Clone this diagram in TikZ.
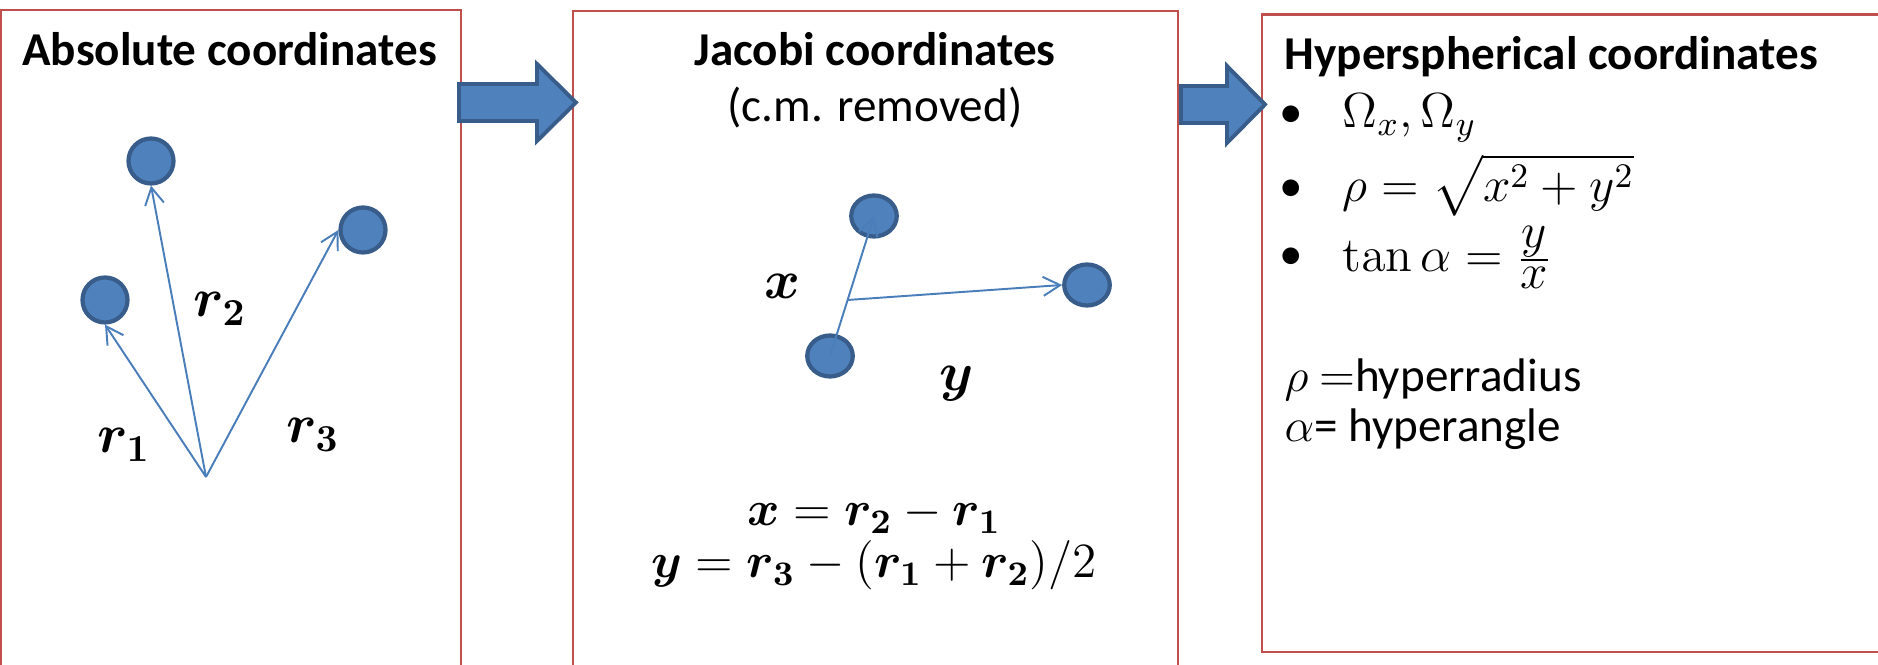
\RequirePackage{fix-cm}
\documentclass[tikz,border=0pt]{standalone}
\usepackage{amsmath}
\usepackage[no-math]{fontspec}
\setmainfont{Carlito}
\usepackage{tikz}
\usetikzlibrary{arrows.meta, shapes.geometric, calc}

\definecolor{panelred}{HTML}{C0504D}
\definecolor{ballfill}{HTML}{4F81BD}
\definecolor{balledge}{HTML}{385D8A}
\definecolor{vecblue}{HTML}{4A7EBB}

\begin{document}
\begin{tikzpicture}[
        x=0.01cm, y=-0.01cm,
        panel/.style={draw=panelred, line width=0.6pt},
        ball/.style={circle, draw=balledge, fill=ballfill, line width=1.2pt, minimum size=0.45cm, inner sep=0pt},
        oval/.style={ellipse, draw=balledge, fill=ballfill, line width=1.2pt, minimum width=0.455cm, minimum height=0.41cm, inner sep=0pt},
        vec/.style={-{Straight Barb[length=0.17cm, width=0.19cm]}, draw=vecblue, line width=0.55pt},
        blockarrow/.style={draw=balledge, fill=ballfill, line width=1.1pt, line join=miter},
        heading/.style={font=\fontsize{13.4}{16}\selectfont\bfseries, inner sep=0pt, anchor=base},
        plain/.style={font=\fontsize{13.4}{16}\selectfont, inner sep=0pt, anchor=base west},
        veclabel/.style={font=\fontsize{15.5}{18}\selectfont, inner sep=0pt, anchor=base},
        formula/.style={font=\fontsize{14}{17}\selectfont, inner sep=0pt, anchor=base}
    ]
    \useasboundingbox (0,0) rectangle (1878,665);
    \clip (0,0) rectangle (1878,665);

    % Panels
    \draw[panel] (1,10) rectangle (461,700);
    \draw[panel] (573,11) rectangle (1178,700);
    \draw[panel] (1262,14.5) rectangle (1900,652);

    % Block arrows between panels
    \draw[blockarrow] (459,84) -- (537,84) -- (537,64) -- (576,102.5) -- (537,141) -- (537,121) -- (459,121) -- cycle;
    \draw[blockarrow] (1181,86) -- (1227,86) -- (1227,66) -- (1265,104.5) -- (1227,143) -- (1227,123) -- (1181,123) -- cycle;

    % Absolute coordinates
    \node[heading] (abstitle) at (229.5,66) {Absolute coordinates};
    \node[ball] (p2) at (151,161) {};
    \node[ball] (p1) at (105,300) {};
    \node[ball] (p3) at (363,230) {};
    \coordinate (origin) at (206,477);
    \draw[vec] (origin) -- (p1.south);
    \draw[vec] (origin) -- (p2.south);
    \draw[vec] (origin) -- (p3.west);
    \node[veclabel] (lr1) at (124,453) {$\boldsymbol{r_1}$};
    \node[veclabel] (lr2) at (220,317) {$\boldsymbol{r_2}$};
    \node[veclabel] (lr3) at (313,443) {$\boldsymbol{r_3}$};

    % Jacobi coordinates
    \node[heading] (jactitle) at (875,66) {Jacobi coordinates};
    \node[heading, font=\fontsize{13.4}{16}\selectfont] (jacsub) at (875,122) {(c.m. removed)};
    \node[oval] (q2) at (874,216) {};
    \node[oval] (q1) at (830,356) {};
    \node[oval] (q3) at (1087,285) {};
    \coordinate (mid12) at ($(q1)!0.4!(q2)$);
    \draw[vec] (q1.center) -- (q2.center);
    \draw[vec] (mid12) -- (q3.west);
    \node[veclabel] (lx) at (782,299) {$\boldsymbol{x}$};
    \node[veclabel] (ly) at (957,391) {$\boldsymbol{y}$};
    \node[formula] (xdef) at (874,526) {$\boldsymbol{x} = \boldsymbol{r_2} - \boldsymbol{r_1}$};
    \node[formula] (ydef) at (874,578) {$\boldsymbol{y} = \boldsymbol{r_3} - (\boldsymbol{r_1} + \boldsymbol{r_2})/2$};

    % Hyperspherical coordinates
    \node[heading, anchor=base west] (hyptitle) at (1284,70) {Hyperspherical coordinates};
    \foreach \yb [count=\i] in {128,202,270}
        \node[plain, anchor=base] (bul\i) at (1291,\yb) {•};
    \node[formula, anchor=base west] (omega) at (1342,128) {$\Omega_x, \Omega_y$};
    \node[formula, anchor=base west] (rho) at (1342,202) {$\rho = \sqrt{x^2 + y^2}$};
    \node[formula, anchor=base west] (tanal) at (1342,272) {$\tan\alpha = \frac{\displaystyle y}{\displaystyle x}$};
    \node[plain] (rhodef) at (1284,392) {$\rho$ $=$hyperradius};
    \node[plain] (alphadef) at (1284,442) {$\alpha$= hyperangle};

\end{tikzpicture}
\end{document}
